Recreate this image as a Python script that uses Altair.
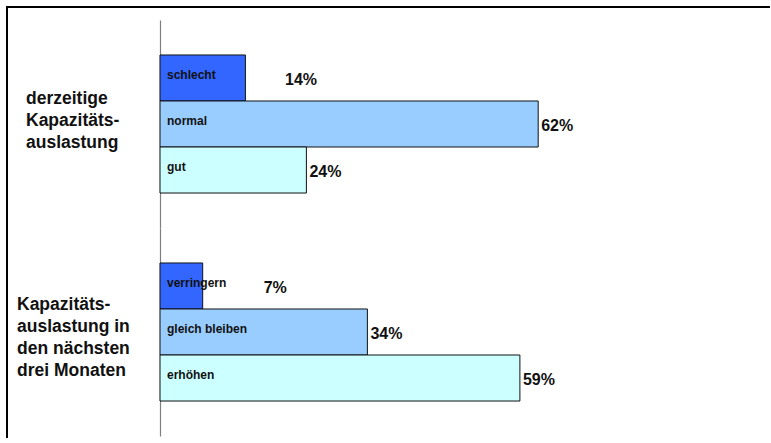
import altair as alt
import pandas as pd

# ---- data ----
groups = ["derzeitige\nKapazitäts-\nauslastung",
          "Kapazitäts-\nauslastung in\nden nächsten\ndrei Monaten"]
categories_1 = ["schlecht", "normal", "gut"]
values_1 = [14, 62, 24]
categories_2 = ["verringern", "gleich bleiben", "erhöhen"]
values_2 = [7, 34, 59]
tones = ["low", "mid", "high"]
tone_colors = ["#3366FF", "#99CCFF", "#CCFFFF"]

rows = []
for g, cats, vals in [(groups[0], categories_1, values_1), (groups[1], categories_2, values_2)]:
    for c, v, t in zip(cats, vals, tones):
        rows.append({"group": g, "category": c, "value": v, "tone": t,
                     "label": f"{v}%"})
df = pd.DataFrame(rows)

FONT = "Liberation Sans"
INK = "#111111"

base = alt.Chart(df).encode(
    y=alt.Y("category:N", sort=None,
            scale=alt.Scale(paddingInner=0, paddingOuter=0.76),
            axis=alt.Axis(labels=False, ticks=False, title=None,
                          domainColor="#7f7f7f", domainWidth=1.2, grid=False)),
)

bars = base.mark_bar(stroke=INK, strokeWidth=1).encode(
    x=alt.X("value:Q", scale=alt.Scale(domain=[0, 100]), axis=None),
    color=alt.Color("tone:N", scale=alt.Scale(domain=tones, range=tone_colors), legend=None),
)

cat_text = base.mark_text(align="left", baseline="middle", dx=7, dy=-3,
                          font=FONT, fontSize=12, fontWeight="bold", color=INK).encode(
    x=alt.datum(0),
    text="category:N",
)

# value labels: just past the bar end; short bars push the label clear of the
# category text that overflows them
val_text = base.mark_text(align="left", baseline="middle", dx=3, dy=2,
                          font=FONT, fontSize=16, fontWeight="bold", color=INK).transform_calculate(
    lx="datum.value < 20 ? datum.value / 2 + 13 : datum.value"
).encode(
    x=alt.X("lx:Q"),
    text="label:N",
)


def group_label(idx, xpos, ypos):
    return alt.Chart(df).mark_text(
        align="left", baseline="middle", lineBreak="\n", lineHeight=22,
        font=FONT, fontSize=17.5, fontWeight="bold", color=INK,
    ).encode(
        x=alt.value(xpos), y=alt.value(ypos), text="group:N",
    ).transform_filter((alt.datum.group == groups[idx]) & (alt.datum.tone == tones[0]))


group_text_1 = group_label(0, -134, 79)
group_text_2 = group_label(1, -143, 77)

first = (alt.datum.group == groups[0]) & (alt.datum.tone == tones[0])
frame_top = alt.Chart(df).mark_rule(color="black", strokeWidth=2).encode(
    x=alt.value(-154), x2=alt.value(610), y=alt.value(-13)
).transform_filter(first)
frame_left = alt.Chart(df).mark_rule(color="black", strokeWidth=2).encode(
    x=alt.value(-153), y=alt.value(-14), y2=alt.value(418)
).transform_filter(first)

layer = alt.layer(bars, cat_text, val_text, group_text_1, group_text_2,
                  frame_top, frame_left).properties(width=610, height=208)

chart = layer.facet(
    row=alt.Row("group:N", sort=groups, header=alt.Header(labels=False, title=None)),
    spacing=0,
    bounds="flush",
).resolve_scale(y="independent").configure_view(stroke=None).properties(
    padding={"left": 5, "top": 5, "right": 0, "bottom": 0},
    background="white",
)

chart.save("out.html", embed_options={"renderer": "svg", "actions": False})
